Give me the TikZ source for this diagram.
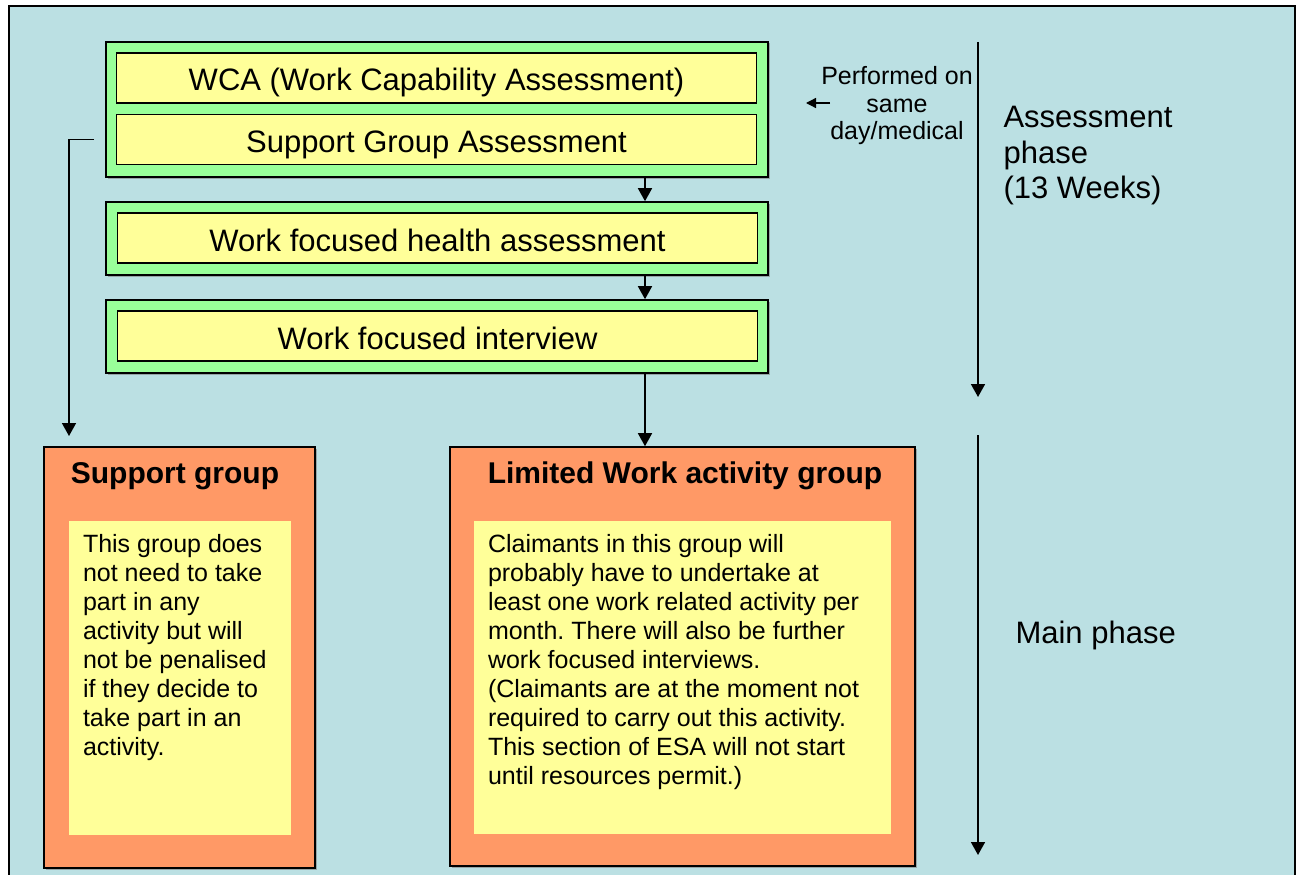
\documentclass[tikz,border=0pt]{standalone}
\usepackage{fontspec}
\setmainfont{Liberation Sans}
\usetikzlibrary{arrows.meta, shadows}
\frenchspacing

\definecolor{bgblue}{RGB}{187,224,227}
\definecolor{stagegreen}{RGB}{153,255,153}
\definecolor{noteyellow}{RGB}{255,255,153}
\definecolor{grouporange}{RGB}{255,153,102}

\begin{document}
\begin{tikzpicture}[x=1pt, y=-1pt,
    stage/.style = {draw, line width=1.6pt, fill=stagegreen,
        minimum width=662pt,
        drop shadow={shadow xshift=1.5pt, shadow yshift=-1.5pt, opacity=.6}},
    stepbox/.style = {draw, line width=1.6pt, fill=noteyellow,
        minimum width=640pt, minimum height=50pt,
        text height=26pt, text depth=0pt,
        font=\fontsize{31}{36}\selectfont},
    groupbox/.style = {draw, line width=1.6pt, fill=grouporange,
        drop shadow={shadow xshift=1.5pt, shadow yshift=-1.5pt, opacity=.6}},
    grouptitle/.style = {font=\bfseries\fontsize{30}{36}\selectfont},
    notebox/.style = {fill=noteyellow, inner xsep=14pt, inner ysep=13pt,
        font=\fontsize{25}{29}\selectfont},
    phasetext/.style = {anchor=west, align=left,
        font=\fontsize{31}{35.5}\selectfont},
    flow/.style = {-{Triangle[length=13pt, width=14pt]}, line width=1.6pt}]
    \useasboundingbox (0,0) rectangle (1296,875);
    % \draw [help lines, step=100] (0,0) grid (1296,875);
    \node (frame) [draw, line width=1.6pt, fill=bgblue, anchor=north west,
        minimum width=1286pt, minimum height=890pt] at (8,5) {};

    % assessment phase
    \node (wcaframe) [stage, minimum height=135pt] at (437,109.5) {};
    \node (wca) [stepbox] at (436.5,78) {WCA (Work Capability Assessment)};
    \node (sga) [stepbox] at (436.5,139.5) {Support Group Assessment};
    \node (wfhaframe) [stage, minimum height=73pt] at (437,238.5) {};
    \node (wfha) [stepbox] at (437.5,238) {Work focused health assessment};
    \node (wfiframe) [stage, minimum height=73pt] at (437,336.5) {};
    \node (wfi) [stepbox] at (437.5,336) {Work focused interview};

    \node (sameday) [align=center,
        font=\fontsize{25}{27.5}\selectfont] at (897,106)
        {Performed on\\same\\day/medical};

    % main phase
    \node (sg) [groupbox, minimum width=271pt,
        minimum height=421pt] at (179.5,657.5) {};
    \node (sgtitle) [grouptitle] at (175,476) {Support group};
    \node (sgnote) [notebox] at (180,678) {\parbox[c][288pt][t]{194pt}{%
        This group does\\
        not need to take\\
        part in any\\
        activity but will\\
        not be penalised\\
        if they decide to\\
        take part in an\\
        activity.}};

    \node (lwag) [groupbox, minimum width=465pt,
        minimum height=419pt] at (682.5,656.5) {};
    \node (lwagtitle) [grouptitle] at (685,476) {Limited Work activity group};
    \node (lwagnote) [notebox] at (682.5,677.5) {\parbox[c][287pt][t]{389pt}{%
        Claimants in this group will\\
        probably have to undertake at\\
        least one work related activity per\\
        month. There will also be further\\
        work focused interviews.\\
        (Claimants are at the moment not\\
        required to carry out this activity.\\
        This section of ESA will not start\\
        until resources permit.)}};

    \node (assess) [phasetext] at (1000,156)
        {Assessment\\phase\\(13 Weeks)};
    \node (mainph) [phasetext] at (1012,635) {Main phase};

    \coordinate (sgentry) at (69,436);
    \coordinate (astart) at (978,42);
    \coordinate (aend) at (978,397);
    \coordinate (mstart) at (978,435);
    \coordinate (mend) at (978,855);

    \draw [flow] ([xshift=208pt]wcaframe.south)
        -- ([xshift=208pt]wfhaframe.north);
    \draw [flow] ([xshift=208pt]wfhaframe.south)
        -- ([xshift=208pt]wfiframe.north);
    \draw [flow] ([xshift=208pt]wfiframe.south)
        -- ([xshift=208pt]wfiframe.south |- lwag.north);
    \draw [flow] ([xshift=-11pt]wcaframe.west |- sga.west) -| (sgentry);
    \draw [-{Triangle[length=10pt, width=10pt]}, line width=1.3pt]
        ([xshift=-67pt, yshift=3pt]sameday.center)
        -- ([xshift=-91pt, yshift=3pt]sameday.center);
    \draw [flow] (astart) -- (aend);
    \draw [flow] (mstart) -- (mend);
\end{tikzpicture}
\end{document}
